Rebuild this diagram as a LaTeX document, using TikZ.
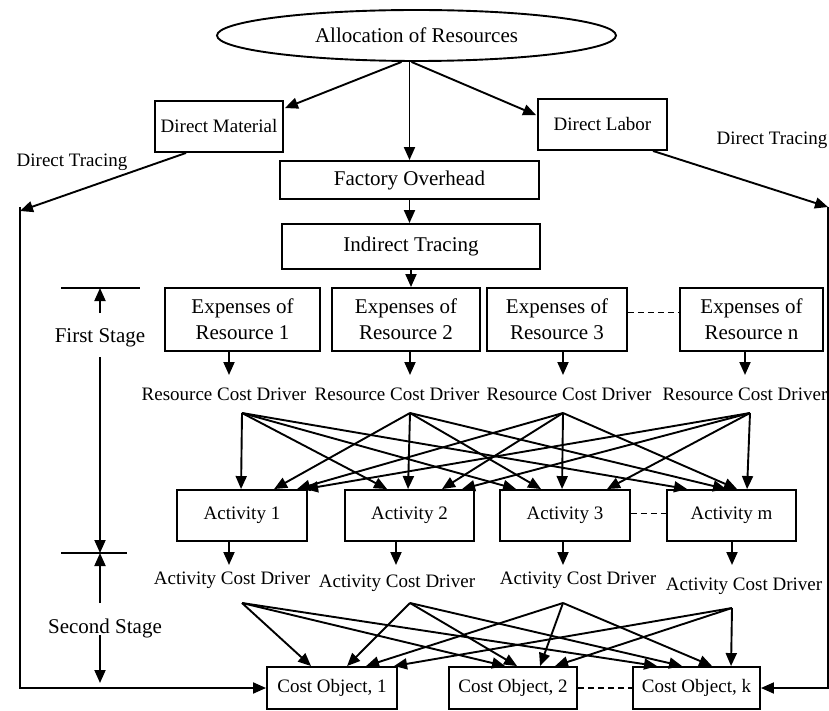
\documentclass[tikz,border=0pt]{standalone}
\usepackage{fontspec}
\setmainfont{Liberation Serif}
\usetikzlibrary{arrows.meta,shapes.geometric,calc}
\begin{document}
\begin{tikzpicture}[x=1pt,y=-1pt,line width=1.9pt,
  box/.style={draw,rectangle,inner sep=0pt,font=\fontsize{19}{21}\selectfont},
  bigbox/.style={draw,rectangle,inner sep=0pt,align=center,font=\fontsize{21}{26}\selectfont},
  lbl/.style={inner sep=0pt,font=\fontsize{19}{21}\selectfont},
  biglbl/.style={inner sep=0pt,font=\fontsize{21}{23}\selectfont},
  arr/.style={-{Triangle[length=13pt,width=11pt]}},
  dashline/.style={line width=1.4pt,dash pattern=on 6pt off 4pt}]
\fill[white] (0,0) rectangle (829,711);
\useasboundingbox (0,0) rectangle (829,711);

% top
\node[draw,ellipse,minimum width=399pt,minimum height=51pt,inner sep=0pt,font=\fontsize{21}{23}\selectfont] (ell) at (416.5,35.5) {Allocation of Resources};
\node[box,minimum width=128pt,minimum height=51pt] (dm) at (219,126.5) {Direct Material};
\node[box,minimum width=129pt,minimum height=51pt] (dl) at (602.5,124.5) {Direct Labor};
\node[bigbox,minimum width=259pt,minimum height=38pt] (fo) at (409.5,180) {Factory Overhead};
\node[bigbox,minimum width=258pt,minimum height=45pt] (it) at (411,246.5) {Indirect Tracing};
\node[lbl] (dtl) at (72,162) {Direct Tracing};
\node[lbl] (dtr) at (772,140) {Direct Tracing};

% expenses
\node[bigbox,minimum width=155pt,minimum height=63pt] (E1) at (242.5,319.5) {Expenses of\\Resource 1};
\node[bigbox,minimum width=148pt,minimum height=63pt] (E2) at (406,319.5) {Expenses of\\Resource 2};
\node[bigbox,minimum width=140pt,minimum height=63pt] (E3) at (557,319.5) {Expenses of\\Resource 3};
\node[bigbox,minimum width=143pt,minimum height=63pt] (En) at (751.5,319.5) {Expenses of\\Resource n};

% resource cost drivers
\node[lbl] (rcd1) at (224,394) {Resource Cost Driver};
\node[lbl] (rcd2) at (397,394) {Resource Cost Driver};
\node[lbl] (rcd3) at (569,394) {Resource Cost Driver};
\node[lbl] (rcd4) at (745,394) {Resource Cost Driver};

% activities
\node[box,minimum width=130pt,minimum height=51pt] (A1) at (242,515.5) {Activity 1};
\node[box,minimum width=129pt,minimum height=51pt] (A2) at (409.5,515.5) {Activity 2};
\node[box,minimum width=130pt,minimum height=51pt] (A3) at (565,515.5) {Activity 3};
\node[box,minimum width=129pt,minimum height=51pt] (Am) at (731.5,515.5) {Activity m};

% activity cost drivers
\node[lbl] (acd1) at (232,580) {Activity Cost Driver};
\node[lbl] (acd2) at (397,583) {Activity Cost Driver};
\node[lbl] (acd3) at (578,580) {Activity Cost Driver};
\node[lbl] (acd4) at (744,586) {Activity Cost Driver};

% cost objects
\node[box,minimum width=130pt,minimum height=42pt] (C1) at (332,688) {Cost Object, 1};
\node[box,minimum width=128pt,minimum height=42pt] (C2) at (513,688) {Cost Object, 2};
\node[box,minimum width=127pt,minimum height=42pt] (Ck) at (696.5,688) {Cost Object, k};

% stage labels
\node[biglbl] (fs) at (100,338) {First Stage};
\node[biglbl] (ss) at (105,628) {Second Stage};
\coordinate (t1a) at (61,288); \coordinate (t1b) at (140,288);
\coordinate (t2a) at (61,553); \coordinate (t2b) at (127,553);
\draw (t1a) -- (t1b);
\draw (t2a) -- (t2b);
\coordinate (s1) at (100,313); \coordinate (s1t) at (100,288);
\coordinate (s2) at (100,357); \coordinate (s2t) at (100,553);
\coordinate (s3) at (100,603); \coordinate (s4) at (100,635); \coordinate (s4t) at (100,683);
\draw[arr] (s1) -- (s1t);
\draw[arr] (s2) -- (s2t);
\draw[arr] (s3) -- (s2t);
\draw[arr] (s4) -- (s4t);

% top arrows
\draw[arr] ($(ell.south)+(-15,0)$) -- ($(dm.north east)+(1,8)$);
\draw[arr] ($(ell.south)+(-5,0)$) -- ($(dl.north west)+(-1,17)$);
\draw[arr] (fo.north |- ell.south) -- (fo.north);
\draw[arr] (fo.south) -- (fo.south |- it.north);
\draw[arr] (it.south) -- (it.south |- E2.north);

% direct tracing paths
\coordinate (L1) at (20,211); \coordinate (L0) at (20,207);
\coordinate (R1) at (828,207);
\draw[arr] ($(dm.south)+(-33,0)$) -- (L1);
\draw[arr] (L0) |- (C1.west);
\draw[arr] ($(dl.south)+(50.5,0)$) -- (R1);
\draw[arr] (R1) |- (Ck.east);

% expenses to resource drivers
\coordinate (e1d) at (229,375); \coordinate (e2d) at (410,375);
\coordinate (e3d) at (563,375); \coordinate (end) at (745,375);
\draw[arr] (E1.south -| e1d) -- (e1d);
\draw[arr] (E2.south -| e2d) -- (e2d);
\draw[arr] (E3.south -| e3d) -- (e3d);
\draw[arr] (En.south -| end) -- (end);

% resource fan
\coordinate (r1) at (242,413); \coordinate (r2) at (410,413);
\coordinate (r3) at (563,413); \coordinate (r4) at (750,413);
\draw[arr] (r1) -- ($(A1.north west)+(65,0)$);
\draw[arr] (r1) -- ($(A2.north west)+(43,0)$);
\draw[arr] (r1) -- ($(A3.north west)+(17,0)$);
\draw[arr] (r1) -- ($(Am.north west)+(21,0)$);
\draw[arr] (r2) -- ($(A1.north west)+(98,0)$);
\draw[arr] (r2) -- ($(A2.north west)+(64,0)$);
\draw[arr] (r2) -- ($(A3.north west)+(42,0)$);
\draw[arr] (r2) -- ($(Am.north west)+(60,0)$);
\draw[arr] (r3) -- ($(A1.north west)+(121,0)$);
\draw[arr] (r3) -- ($(A2.north west)+(98,0)$);
\draw[arr] (r3) -- ($(A3.north west)+(63,0)$);
\draw[arr] (r3) -- ($(Am.north west)+(71,0)$);
\draw[arr] (r4) -- ($(A1.north west)+(129,0)$);
\draw[arr] (r4) -- ($(A2.north west)+(118,0)$);
\draw[arr] (r4) -- ($(A3.north west)+(108,0)$);
\draw[arr] (r4) -- ($(Am.north west)+(81,0)$);

% activities to activity drivers
\coordinate (a1d) at (229,565); \coordinate (a2d) at (396,565);
\coordinate (a3d) at (563,565); \coordinate (amd) at (732,565);
\draw[arr] (A1.south -| a1d) -- (a1d);
\draw[arr] (A2.south -| a2d) -- (a2d);
\draw[arr] (A3.south -| a3d) -- (a3d);
\draw[arr] (Am.south -| amd) -- (amd);

% activity fan
\coordinate (a1) at (242,603); \coordinate (a2) at (410,603);
\coordinate (a3) at (563,603); \coordinate (a4) at (732,608);
\draw[arr] (a1) -- ($(C1.north west)+(45,0)$);
\draw[arr] (a1) -- ($(C2.north west)+(57,0)$);
\draw[arr] (a1) -- ($(Ck.north west)+(25,0)$);
\draw[arr] (a2) -- ($(C1.north west)+(81,0)$);
\draw[arr] (a2) -- ($(C2.north west)+(69,0)$);
\draw[arr] (a2) -- ($(Ck.north west)+(50,0)$);
\draw[arr] (a3) -- ($(C1.north west)+(100,0)$);
\draw[arr] (a3) -- ($(C2.north west)+(92,0)$);
\draw[arr] (a3) -- ($(Ck.north west)+(80,0)$);
\draw[arr] (a4) -- ($(C1.north west)+(128,0)$);
\draw[arr] (a4) -- ($(C2.north west)+(107,0)$);
\draw[arr] (a4) -- ($(Ck.north west)+(99,0)$);

% dashed links
\draw[dashline] ($(E3.east)+(0,-7)$) -- ($(En.west)+(0,-7)$);
\draw[dashline] ($(A3.east)+(0,-2)$) -- ($(Am.west)+(0,-2)$);
\draw[dashline] (C2.east) -- (Ck.west);
\end{tikzpicture}
\end{document}
